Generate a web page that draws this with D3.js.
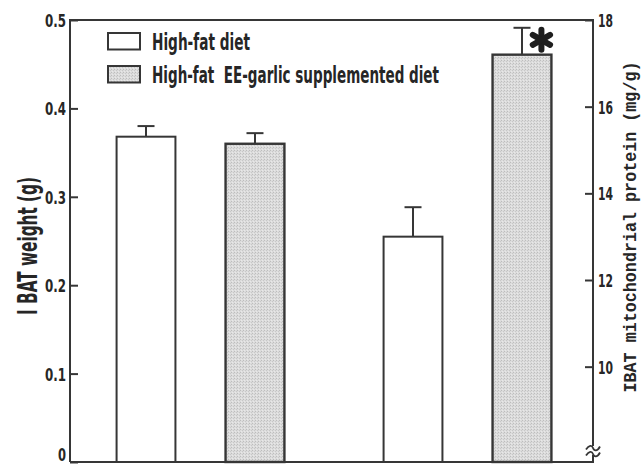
<!DOCTYPE html>
<html>
<head>
<meta charset="utf-8">
<script src="https://cdn.jsdelivr.net/npm/d3@7"></script>
<style>
  html, body { margin: 0; padding: 0; background: #fff; }
  svg { display: block; }
  .cond { font-family: "Liberation Sans Narrow", "DejaVu Sans Condensed", "Arial Narrow", sans-serif; font-weight: bold; fill: #262626; }
  .mono { font-family: "Liberation Mono", "DejaVu Sans Mono", monospace; font-weight: bold; fill: #262626; }
</style>
</head>
<body>
<svg id="chart" width="643" height="465"></svg>
<script>
// Measurements (two groups, each compared across diets)
const groups = ["IBAT weight", "IBAT mitochondrial protein"];
const diets = ["High-fat diet", "High-fat  EE-garlic supplemented diet"];
const weightMeans = [0.368, 0.360];      // g (left axis)
const weightErrors = [0.012, 0.012];
const proteinMeans = [13.0, 17.2];       // mg/g (right axis)
const proteinErrors = [0.68, 0.62];
const significant = [false, false, false, true];

const leftTicks = [0, 0.1, 0.2, 0.3, 0.4, 0.5];
const rightTicks = [10, 12, 14, 16, 18];

const svg = d3.select("#chart");
const ink = "#363636";

// stippled gray fill
const defs = svg.append("defs");
const pat = defs.append("pattern").attr("id", "stipple")
  .attr("width", 3).attr("height", 3).attr("patternUnits", "userSpaceOnUse");
pat.append("rect").attr("width", 3).attr("height", 3).attr("fill", "#dcdcdc");
pat.append("rect").attr("x", 0).attr("y", 0).attr("width", 1).attr("height", 1).attr("fill", "#bdbdbd");
pat.append("rect").attr("x", 2).attr("y", 1).attr("width", 1).attr("height", 1).attr("fill", "#c8c8c8");
pat.append("rect").attr("x", 1).attr("y", 2).attr("width", 1).attr("height", 1).attr("fill", "#e8e8e8");

const plot = { left: 70, right: 593, top: 20, bottom: 462 };

const yL = d3.scaleLinear().domain([0, 0.5]).range([plot.bottom, plot.top]);
// right axis is broken near the bottom; 7.8 sits at the baseline
const yR = d3.scaleLinear().domain([7.8, 18]).range([plot.bottom, plot.top]);

const x0 = d3.scaleBand().domain(groups).range([67, 601]).paddingInner(0).paddingOuter(0);
const x1 = d3.scaleBand().domain(diets).range([0, x0.bandwidth()]).paddingInner(0.46).paddingOuter(0.455);

const bars = [];
groups.forEach((g, gi) => {
  diets.forEach((d, di) => {
    const isW = gi === 0;
    bars.push({
      group: g, diet: d, di,
      value: isW ? weightMeans[di] : proteinMeans[di],
      err: isW ? weightErrors[di] : proteinErrors[di],
      y: isW ? yL : yR,
      sig: significant[gi * 2 + di]
    });
  });
});

// error bars (drawn first so the bar outline sits on top)
const errG = svg.append("g");
bars.forEach(b => {
  const cx = x0(b.group) + x1(b.diet) + x1.bandwidth() / 2;
  errG.append("line").attr("x1", cx).attr("x2", cx)
    .attr("y1", b.y(b.value)).attr("y2", b.y(b.value + b.err))
    .attr("stroke", ink).attr("stroke-width", 2);
  errG.append("line").attr("x1", cx - 8.5).attr("x2", cx + 8.5)
    .attr("y1", b.y(b.value + b.err)).attr("y2", b.y(b.value + b.err))
    .attr("stroke", ink).attr("stroke-width", 2);
});

// bars
svg.append("g").selectAll("rect").data(bars).join("rect")
  .attr("x", b => x0(b.group) + x1(b.diet))
  .attr("y", b => b.y(b.value))
  .attr("width", x1.bandwidth())
  .attr("height", b => plot.bottom - b.y(b.value))
  .attr("fill", b => b.di === 0 ? "#fff" : "url(#stipple)")
  .attr("stroke", ink)
  .attr("stroke-width", b => b.di === 0 ? 2 : 2.4);

// significance asterisk, just right of the error bar cap
bars.filter(b => b.sig).forEach(b => {
  const cx = x0(b.group) + x1(b.diet) + x1.bandwidth() - 10;
  const cy = b.y(b.value + b.err) + 12;
  const g = svg.append("g").attr("transform", `translate(${cx},${cy})`);
  [90, 30, -30].forEach(a => {
    const r = 10, t = a * Math.PI / 180;
    g.append("line")
      .attr("x1", -r * Math.cos(t)).attr("y1", -r * Math.sin(t))
      .attr("x2", r * Math.cos(t)).attr("y2", r * Math.sin(t))
      .attr("stroke", "#1e1e1e").attr("stroke-width", 6).attr("stroke-linecap", "round");
  });
});

// frame
svg.append("path")
  .attr("d", `M${plot.left},${plot.bottom}V${plot.top}H${plot.right}V${plot.bottom}H${plot.left}`)
  .attr("fill", "none").attr("stroke", ink).attr("stroke-width", 2);

// left axis (ticks inward)
const axL = svg.append("g").attr("transform", `translate(${plot.left},0)`)
  .call(d3.axisRight(yL).tickValues(leftTicks).tickSize(8).tickFormat(d => d === 0 ? "0" : d3.format(".1f")(d)));
axL.select(".domain").remove();
axL.selectAll(".tick line").attr("stroke", ink).attr("stroke-width", 2);
axL.selectAll(".tick text").attr("class", "cond").attr("x", -4).attr("text-anchor", "end")
  .attr("font-size", 18).attr("dy", d => d === 0 ? "-0.1em" : "0.36em")
  .attr("textLength", d => d === 0 ? 8 : 21).attr("lengthAdjust", "spacingAndGlyphs");

// right axis (ticks inward)
const axR = svg.append("g").attr("transform", `translate(${plot.right},0)`)
  .call(d3.axisLeft(yR).tickValues(rightTicks).tickSize(8).tickFormat(d3.format("d")));
axR.select(".domain").remove();
axR.selectAll(".tick line").attr("stroke", ink).attr("stroke-width", 2);
axR.selectAll(".tick text").attr("class", "cond").attr("x", 5).attr("text-anchor", "start")
  .attr("font-size", 18).attr("dy", "0.36em")
  .attr("textLength", 15).attr("lengthAdjust", "spacingAndGlyphs");

// axis break mark on the right axis
const brk = svg.append("g").attr("transform", `translate(${plot.right},451)`);
brk.append("rect").attr("x", -3).attr("y", -5).attr("width", 6).attr("height", 9).attr("fill", "#fff");
[-3, 3].forEach(dy => {
  brk.append("path")
    .attr("d", `M-7,${dy + 1.5} C-4,${dy - 3} -1,${dy - 3} 0,${dy} S4,${dy + 4} 7,${dy - 1.5}`)
    .attr("fill", "none").attr("stroke", ink).attr("stroke-width", 1.8);
});

// axis titles
svg.append("text").attr("class", "cond")
  .attr("transform", "translate(37,246) rotate(-90)")
  .attr("text-anchor", "middle").attr("font-size", 27)
  .attr("textLength", 138).attr("lengthAdjust", "spacingAndGlyphs")
  .text("I BAT weight (g)");

svg.append("text").attr("class", "mono")
  .attr("transform", "translate(636,227) rotate(-90)")
  .attr("text-anchor", "middle").attr("font-size", 18.5)
  .attr("textLength", 331).attr("lengthAdjust", "spacingAndGlyphs")
  .text("IBAT mitochondrial protein (mg/g)");

// legend
const legend = svg.append("g");
const legendRows = [
  { label: diets[0], fill: "#fff", y: 33, w: 98 },
  { label: diets[1], fill: "url(#stipple)", y: 66, w: 287 }
];
legendRows.forEach(r => {
  legend.append("rect").attr("x", 108).attr("y", r.y).attr("width", 32).attr("height", 16.5)
    .attr("fill", r.fill).attr("stroke", ink).attr("stroke-width", 2);
  legend.append("text").attr("class", "cond")
    .attr("x", 152).attr("y", r.y + 17).attr("font-size", 23)
    .attr("textLength", r.w).attr("lengthAdjust", "spacingAndGlyphs")
    .style("white-space", "pre")
    .text(r.label);
});
</script>
</body>
</html>
